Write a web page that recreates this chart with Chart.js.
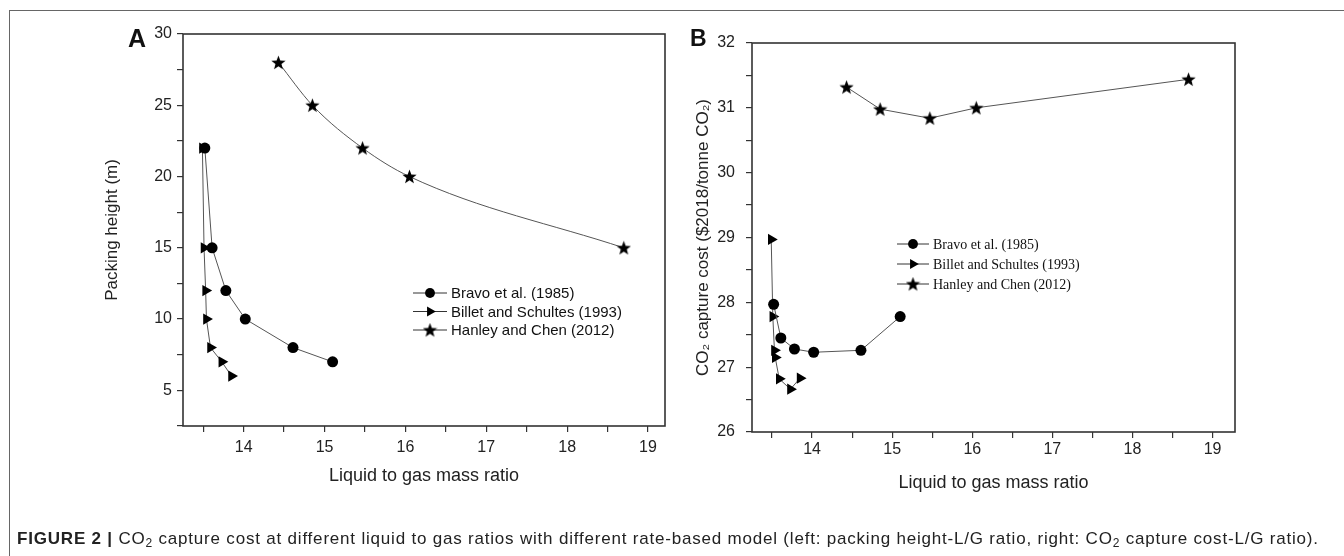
<!DOCTYPE html>
<html>
<head>
<meta charset="utf-8">
<script src="https://cdn.jsdelivr.net/npm/chart.js@4/dist/chart.umd.min.js"></script>
<style>
  html, body { margin: 0; padding: 0; background: #fff; }
  #page { position: relative; width: 1344px; height: 556px; overflow: hidden; font-family: "Liberation Sans", Arial, sans-serif; }
  .frameTop { position: absolute; left: 9px; top: 10px; width: 1335px; height: 0; border-top: 1.5px solid #666; }
  .frameLeft { position: absolute; left: 9px; top: 10px; width: 0; height: 546px; border-left: 1.5px solid #666; }
  .box { position: absolute; top: 0; width: 672px; height: 556px; }
  .panel { position: absolute; font-weight: bold; color: #111; }
  #caption { position: absolute; left: 17px; top: 529px; font-family: "Liberation Sans", Arial, sans-serif; font-size: 17px; letter-spacing: 0.8px; color: #222; white-space: nowrap; }
  #caption sub { font-size: 12px; vertical-align: -3px; line-height: 0; }
</style>
</head>
<body>
<div id="page">
  <div class="frameTop"></div>
  <div class="frameLeft"></div>
  <div class="box" style="left:0"><canvas id="chartA"></canvas></div>
  <div class="box" style="left:672px"><canvas id="chartB"></canvas></div>
  <div class="panel" style="left:128px; top:24px; font-size:25px;">A</div>
  <div class="panel" style="left:690px; top:25px; font-size:23px;">B</div>
  <div id="caption"><b>FIGURE 2 |</b> CO<sub>2</sub> capture cost at different liquid to gas ratios with different rate-based model (left: packing height-L/G ratio, right: CO<sub>2</sub> capture cost-L/G ratio).</div>
</div>
<script>
// Daten
const seriesNames = ["Bravo et al. (1985)", "Billet and Schultes (1993)", "Hanley and Chen (2012)"];

const bravoRatio = [13.52, 13.61, 13.78, 14.02, 14.61, 15.10];
const billetRatio = [13.49, 13.51, 13.53, 13.54, 13.59, 13.73, 13.85];
const hanleyRatio = [14.43, 14.85, 15.47, 16.05, 18.70];

const bravoHeight = [22, 15, 12, 10, 8, 7];
const billetHeight = [22, 15, 12, 10, 8, 7, 6];
const hanleyHeight = [28, 25, 22, 20, 15];

const bravoCost = [27.97, 27.45, 27.28, 27.23, 27.26, 27.78];
const billetCost = [28.97, 27.78, 27.26, 27.15, 26.82, 26.66, 26.83];
const hanleyCost = [31.32, 30.98, 30.84, 31.00, 31.44];

const xTickLabels = [14, 15, 16, 17, 18, 19];
const heightTickLabels = [5, 10, 15, 20, 25, 30];
const costTickLabels = [26, 27, 28, 29, 30, 31, 32];

function pairs(xs, ys) {
    return xs.map((x, i) => ({ x: x, y: ys[i] }));
}

// gefuellter Stern als Punktstil
function makeStar(size) {
    const c = document.createElement('canvas');
    c.width = size; c.height = size;
    const g = c.getContext('2d');
    const r = size / 2, ri = r * 0.42;
    g.beginPath();
    for (let i = 0; i < 10; i++) {
        const rad = (i % 2 === 0) ? r : ri;
        const a = -Math.PI / 2 + i * Math.PI / 5;
        const px = r + rad * Math.cos(a), py = r + 0.6 + rad * Math.sin(a);
        if (i === 0) g.moveTo(px, py); else g.lineTo(px, py);
    }
    g.closePath();
    g.fillStyle = '#000';
    g.fill();
    return c;
}
const starImg = makeStar(15);

function makeDatasets(ys1, ys2, ys3, smoothStar) {
    const base = { borderColor: '#555', borderWidth: 1, pointBackgroundColor: '#000', pointBorderColor: '#000', pointBorderWidth: 0, showLine: true };
    return [
        Object.assign({}, base, { label: seriesNames[0], data: pairs(bravoRatio, ys1), pointStyle: 'circle', pointRadius: 5.5 }),
        Object.assign({}, base, { label: seriesNames[1], data: pairs(billetRatio, ys2), pointStyle: 'triangle', pointRotation: 90, pointRadius: 6.5 }),
        Object.assign({}, base, { label: seriesNames[2], data: pairs(hanleyRatio, ys3), pointStyle: starImg, pointRadius: 7, cubicInterpolationMode: smoothStar ? 'monotone' : 'default' })
    ];
}

// Rahmen um den Plotbereich
const boxPlugin = {
    id: 'boxPlugin',
    afterDraw(chart) {
        const a = chart.chartArea, ctx = chart.ctx;
        ctx.save();
        ctx.strokeStyle = '#333';
        ctx.lineWidth = 1.6;
        ctx.strokeRect(a.left, a.top, a.right - a.left, a.bottom - a.top);
        ctx.restore();
    }
};

// Legende: Linie - Symbol - Linie, dann Text
const lineLegend = {
    id: 'lineLegend',
    afterDraw(chart, args, opts) {
        const ctx = chart.ctx;
        ctx.save();
        chart.data.datasets.forEach((ds, i) => {
            const y = opts.y + i * opts.rowH;
            ctx.strokeStyle = '#333';
            ctx.lineWidth = 1;
            ctx.beginPath();
            ctx.moveTo(opts.x, y);
            ctx.lineTo(opts.x + opts.lineLen, y);
            ctx.stroke();
            ctx.fillStyle = '#000';
            Chart.helpers.drawPoint(ctx, { pointStyle: ds.pointStyle, rotation: ds.pointRotation || 0, radius: ds.pointRadius * 0.9, borderWidth: 0 }, opts.x + opts.lineLen / 2, y);
            ctx.fillStyle = '#111';
            ctx.font = opts.font;
            ctx.textBaseline = 'middle';
            ctx.fillText(ds.label, opts.x + opts.lineLen + 4, y + 1);
        });
        ctx.restore();
    }
};

function axisFont(size) {
    return { family: "'Liberation Sans', Arial, sans-serif", size: size };
}

function makeChart(id, datasets, cfg) {
    return new Chart(document.getElementById(id), {
        type: 'scatter',
        data: { datasets: datasets },
        plugins: [boxPlugin, lineLegend],
        options: {
            responsive: true,
            maintainAspectRatio: false,
            animation: false,
            layout: { padding: cfg.padding },
            plugins: {
                legend: { display: false },
                tooltip: { enabled: false },
                lineLegend: cfg.legend
            },
            scales: {
                x: {
                    type: 'linear',
                    min: 13.25, max: cfg.xMax,
                    afterFit: s => { s.height = cfg.xHeight; },
                    border: { display: false },
                    grid: { drawOnChartArea: false, drawTicks: true, tickLength: 6, color: '#333', lineWidth: 1.2 },
                    ticks: {
                        stepSize: 0.5, includeBounds: false, autoSkip: false, maxRotation: 0,
                        color: '#222', font: axisFont(16), padding: cfg.xTickPad,
                        callback: v => xTickLabels.includes(v) ? String(v) : ''
                    },
                    title: { display: true, text: 'Liquid to gas mass ratio', color: '#222', font: axisFont(18), padding: { top: 4, bottom: 4 } }
                },
                y: {
                    min: cfg.yMin, max: cfg.yMax,
                    afterFit: s => { s.width = cfg.yWidth; },
                    border: { display: false },
                    grid: { drawOnChartArea: false, drawTicks: true, tickLength: 6, color: '#333', lineWidth: 1.2 },
                    ticks: {
                        stepSize: cfg.yStep, includeBounds: false, autoSkip: false,
                        color: '#222', font: axisFont(16), padding: cfg.yTickPad,
                        callback: v => cfg.yLabels.includes(v) ? String(v) : ''
                    },
                    title: { display: true, text: cfg.yTitle, color: '#222', font: axisFont(17), padding: { top: 4, bottom: 4 } }
                }
            }
        }
    });
}

makeChart('chartA', makeDatasets(bravoHeight, billetHeight, hanleyHeight, true), {
    padding: { left: 98, right: 6, top: 34, bottom: 65 },
    xMax: 19.21, xHeight: 65, xTickPad: 6,
    yMin: 2.5, yMax: 30, yStep: 2.5, yWidth: 85, yTickPad: 5,
    yLabels: heightTickLabels, yTitle: 'Packing height (m)',
    legend: { x: 413, y: 293, rowH: 18.5, lineLen: 34, font: "15px 'Liberation Sans', Arial, sans-serif" }
});

makeChart('chartB', makeDatasets(bravoCost, billetCost, hanleyCost, false), {
    padding: { left: 17, right: 109, top: 43, bottom: 58 },
    xMax: 19.28, xHeight: 66, xTickPad: 2,
    yMin: 26, yMax: 32, yStep: 0.5, yWidth: 63, yTickPad: 11,
    yLabels: costTickLabels, yTitle: 'CO\u2082 capture cost ($2018/tonne CO\u2082)',
    legend: { x: 225, y: 244, rowH: 20, lineLen: 32, font: "14px 'Liberation Serif', 'Times New Roman', serif" }
});
</script>
</body>
</html>
